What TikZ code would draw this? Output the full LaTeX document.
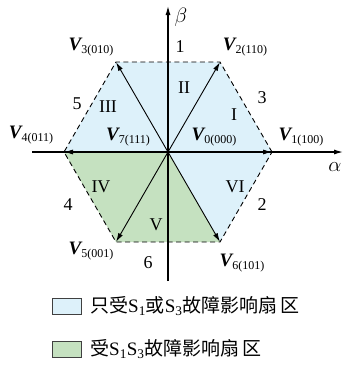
\documentclass[tikz,border=0pt]{standalone}
\usepackage{fontspec}
\setmainfont{Liberation Serif}
\newfontfamily\cjk{Noto Sans CJK SC}
\usetikzlibrary{arrows.meta}
\definecolor{lblue}{HTML}{DDF1FA}
\definecolor{lgreen}{HTML}{C5E1C0}
\newcommand{\vlab}[2]{{\fontsize{19}{19}\selectfont\bfseries\itshape V}\raisebox{-0.5ex}{\fontsize{12}{12}\selectfont #1(#2)}}
\begin{document}
\begin{tikzpicture}[x=1pt,y=-1pt,
  axis/.style={line width=1.1pt,-{Latex[length=9pt,width=5pt]}},
  vec/.style={line width=0.9pt,-{Latex[length=9pt,width=5pt]}},
  edge/.style={line width=0.9pt,dash pattern=on 5pt off 3.5pt},
  lab/.style={font=\fontsize{18}{18}\selectfont,inner sep=0pt},
  greek/.style={font=\fontsize{22}{22}\selectfont,inner sep=0pt},
  leg/.style={draw=black!75,line width=0.8pt,minimum width=29pt,minimum height=16pt,inner sep=0pt},
  legtxt/.style={font=\fontsize{19}{19}\selectfont\cjk,anchor=west,inner sep=0pt}]
\useasboundingbox (0,0) rectangle (344,365);
% vertices
\coordinate (O) at (168,152);
\coordinate (P1) at (272,152);
\coordinate (P2) at (220,62);
\coordinate (P3) at (116,62);
\coordinate (P4) at (64,152);
\coordinate (P5) at (116,242);
\coordinate (P6) at (220,242);
\coordinate (AL) at (32,152);
\coordinate (AR) at (343,152);
\coordinate (AB) at (168,281);
\coordinate (AT) at (168,6);
% fills
\fill[lblue] (O) -- (P6) -- (P1) -- (P2) -- (P3) -- (P4) -- cycle;
\fill[lgreen] (O) -- (P4) -- (P5) -- (P6) -- cycle;
% hexagon
\draw[edge] (P1) -- (P2) -- (P3) -- (P4) -- (P5) -- (P6) -- cycle;
% axes
\draw[axis] (AL) -- (AR);
\draw[axis] (AB) -- (AT);
% vectors
\draw[vec] (O) -- (P1);
\draw[vec] (O) -- (P2);
\draw[vec] (O) -- (P3);
\draw[vec] (O) -- (P4);
\draw[vec] (O) -- (P5);
\draw[vec] (O) -- (P6);
% axis labels
\node[greek] (beta) at (181,17) {$\beta$};
\node[greek] (alpha) at (335,167) {$\alpha$};
% vector labels
\node[inner sep=0pt] (l3) at (91,47) {\vlab{3}{010}};
\node[inner sep=0pt] (l2) at (245,47) {\vlab{2}{110}};
\node[inner sep=0pt] (l4) at (31,135) {\vlab{4}{011}};
\node[inner sep=0pt] (l7) at (128,137) {\vlab{7}{111}};
\node[inner sep=0pt] (l0) at (214,137) {\vlab{0}{000}};
\node[inner sep=0pt] (l1) at (301,137) {\vlab{1}{100}};
\node[inner sep=0pt] (l5) at (91,251) {\vlab{5}{001}};
\node[inner sep=0pt] (l6) at (242,263) {\vlab{6}{101}};
% sector numbers
\node[lab] (n1) at (180,47) {1};
\node[lab] (n3) at (262,98) {3};
\node[lab] (n2) at (262,205) {2};
\node[lab] (n6) at (148,263) {6};
\node[lab] (n4) at (68,205) {4};
\node[lab] (n5) at (77,104) {5};
% roman numerals
\node[lab] (r2) at (184,88) {II};
\node[lab] (r1) at (234,115) {I};
\node[lab] (r6) at (235,187) {VI};
\node[lab] (r5) at (156,225) {V};
\node[lab] (r4) at (101,187) {IV};
\node[lab] (r3) at (108,107) {III};
% legend
\node[leg,fill=lblue] (b1) at (67,306) {};
\node[leg,fill=lgreen] (b2) at (67,349) {};
\node[legtxt] (t1) at (90,306) {只受{\rmfamily S\textsubscript{1}}或{\rmfamily S\textsubscript{3}}故障影响扇\,区};
\node[legtxt] (t2) at (90,349) {受{\rmfamily S\textsubscript{1}S\textsubscript{3}}故障影响扇\,区};
\end{tikzpicture}
\end{document}
